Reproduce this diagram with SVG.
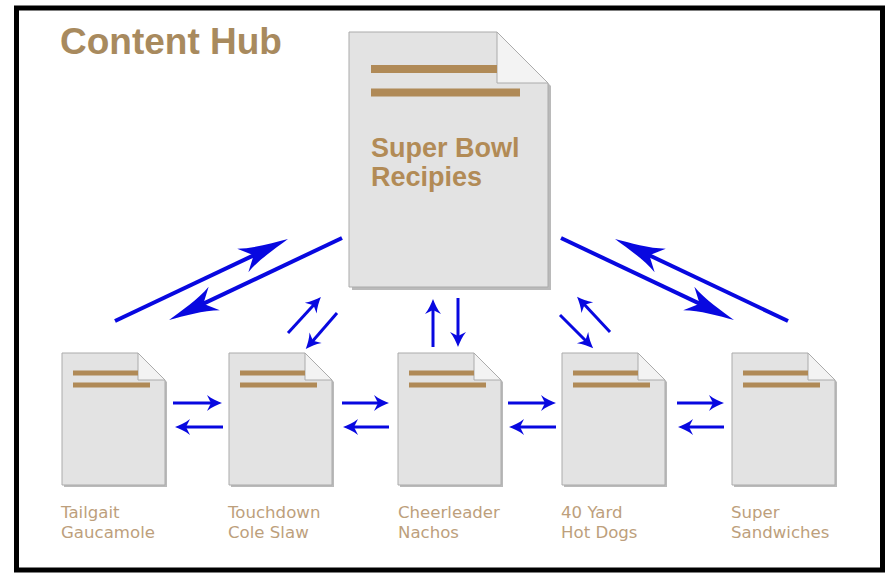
<svg xmlns="http://www.w3.org/2000/svg" width="894" height="576" viewBox="0 0 894 576">
<defs>
<style>
.frame{fill:#fff;stroke:#000;stroke-width:5}
.title{font-family:"Liberation Sans",Arial,sans-serif;font-weight:bold;font-size:37px;fill:#a88a5e}
.hubtxt{font-family:"Liberation Sans",Arial,sans-serif;font-weight:bold;font-size:27px;fill:#b28b56}
.lbl{font-family:"DejaVu Sans",Verdana,sans-serif;font-size:16.6px;fill:#bd9f7c}
.shadow{fill:#8c8c8c;opacity:0.6}
.page{fill:#e3e3e3;stroke:#ababab;stroke-width:1}
.fold{fill:#f3f3f3;stroke:#ababab;stroke-width:1}
.bar{fill:#b08a57}
.big{stroke:#0808e0;stroke-width:4;fill:none;marker-end:url(#bigHead)}
.sm{stroke:#0808e0;stroke-width:3;fill:none;marker-end:url(#smHead)}
</style>
<marker id="bigHead" markerUnits="userSpaceOnUse" orient="auto" refX="0" refY="0" markerWidth="80" markerHeight="40" viewBox="-40 -20 80 40" overflow="visible">
<path d="M20,0 C5,-3 -15,-6 -30,-13 L-18,0 L-30,13 C-15,6 5,3 20,0 Z" fill="#0808e0"/>
</marker>
<marker id="smHead" markerUnits="userSpaceOnUse" orient="auto" refX="0" refY="0" markerWidth="30" markerHeight="20" viewBox="-15 -10 30 20" overflow="visible">
<path d="M8,0 C3,-2 -2,-4 -7,-8 L-3,0 L-7,8 C-2,4 3,2 8,0 Z" fill="#0808e0"/>
</marker>
</defs>

<rect class="frame" x="16.5" y="8" width="866" height="562"/>
<text class="title" x="60" y="54">Content Hub</text>

<g id="hub">
<path class="shadow" d="M352,35 H500 L551,86 V290 H352 Z"/>
<path class="page" d="M349,32 H497 L548,83 V287 H349 Z"/>
<path class="fold" d="M497,32 V83 H548 Z"/>
<rect class="bar" x="371" y="65" width="126" height="8"/>
<rect class="bar" x="371" y="88.5" width="149" height="8"/>
<text class="hubtxt" x="371" y="157">Super Bowl</text>
<text class="hubtxt" x="371" y="186">Recipies</text>
</g>

<g id="doc1" transform="translate(62,353)">
<path class="shadow" d="M2,2 H78 L105,29 V134 H2 Z"/>
<path class="page" d="M0,0 H76 L103,27 V132 H0 Z"/>
<path class="fold" d="M76,0 V27 H103 Z"/>
<rect class="bar" x="11" y="17.5" width="65" height="5"/>
<rect class="bar" x="11" y="29.5" width="77" height="5"/>
</g>
<g id="doc2" transform="translate(229,353)">
<path class="shadow" d="M2,2 H78 L105,29 V134 H2 Z"/>
<path class="page" d="M0,0 H76 L103,27 V132 H0 Z"/>
<path class="fold" d="M76,0 V27 H103 Z"/>
<rect class="bar" x="11" y="17.5" width="65" height="5"/>
<rect class="bar" x="11" y="29.5" width="77" height="5"/>
</g>
<g id="doc3" transform="translate(398,353)">
<path class="shadow" d="M2,2 H78 L105,29 V134 H2 Z"/>
<path class="page" d="M0,0 H76 L103,27 V132 H0 Z"/>
<path class="fold" d="M76,0 V27 H103 Z"/>
<rect class="bar" x="11" y="17.5" width="65" height="5"/>
<rect class="bar" x="11" y="29.5" width="77" height="5"/>
</g>
<g id="doc4" transform="translate(562,353)">
<path class="shadow" d="M2,2 H78 L105,29 V134 H2 Z"/>
<path class="page" d="M0,0 H76 L103,27 V132 H0 Z"/>
<path class="fold" d="M76,0 V27 H103 Z"/>
<rect class="bar" x="11" y="17.5" width="65" height="5"/>
<rect class="bar" x="11" y="29.5" width="77" height="5"/>
</g>
<g id="doc5" transform="translate(732,353)">
<path class="shadow" d="M2,2 H78 L105,29 V134 H2 Z"/>
<path class="page" d="M0,0 H76 L103,27 V132 H0 Z"/>
<path class="fold" d="M76,0 V27 H103 Z"/>
<rect class="bar" x="11" y="17.5" width="65" height="5"/>
<rect class="bar" x="11" y="29.5" width="77" height="5"/>
</g>

<g id="labels">
<text class="lbl" x="61" y="518">Tailgait</text>
<text class="lbl" x="61" y="538">Gaucamole</text>
<text class="lbl" x="228" y="518">Touchdown</text>
<text class="lbl" x="228" y="538">Cole Slaw</text>
<text class="lbl" x="398" y="518">Cheerleader</text>
<text class="lbl" x="398" y="538">Nachos</text>
<text class="lbl" x="561" y="518">40 Yard</text>
<text class="lbl" x="561" y="538">Hot Dogs</text>
<text class="lbl" x="731" y="518">Super</text>
<text class="lbl" x="731" y="538">Sandwiches</text>
</g>

<g id="connectors">
<line class="big" x1="115" y1="321" x2="269.9" y2="247.6"/>
<line class="big" x1="342" y1="238" x2="187.1" y2="311.4"/>
<line class="big" x1="561" y1="238" x2="715.9" y2="311.4"/>
<line class="big" x1="788" y1="321" x2="633.1" y2="247.6"/>

<line class="sm" x1="288" y1="333" x2="315.5" y2="303"/>
<line class="sm" x1="337" y1="313" x2="311" y2="343"/>
<line class="sm" x1="433" y1="347" x2="433" y2="307"/>
<line class="sm" x1="458" y1="298" x2="458" y2="339"/>
<line class="sm" x1="560" y1="315" x2="587.5" y2="342.5"/>
<line class="sm" x1="610" y1="332" x2="582.5" y2="302.5"/>

<line class="sm" x1="173" y1="403" x2="214" y2="403"/>
<line class="sm" x1="223" y1="427" x2="183" y2="427"/>
<line class="sm" x1="342" y1="403" x2="381" y2="403"/>
<line class="sm" x1="389" y1="427" x2="351" y2="427"/>
<line class="sm" x1="508" y1="403" x2="548" y2="403"/>
<line class="sm" x1="556" y1="427" x2="517" y2="427"/>
<line class="sm" x1="677" y1="403" x2="716" y2="403"/>
<line class="sm" x1="724" y1="427" x2="686" y2="427"/>
</g>
</svg>
